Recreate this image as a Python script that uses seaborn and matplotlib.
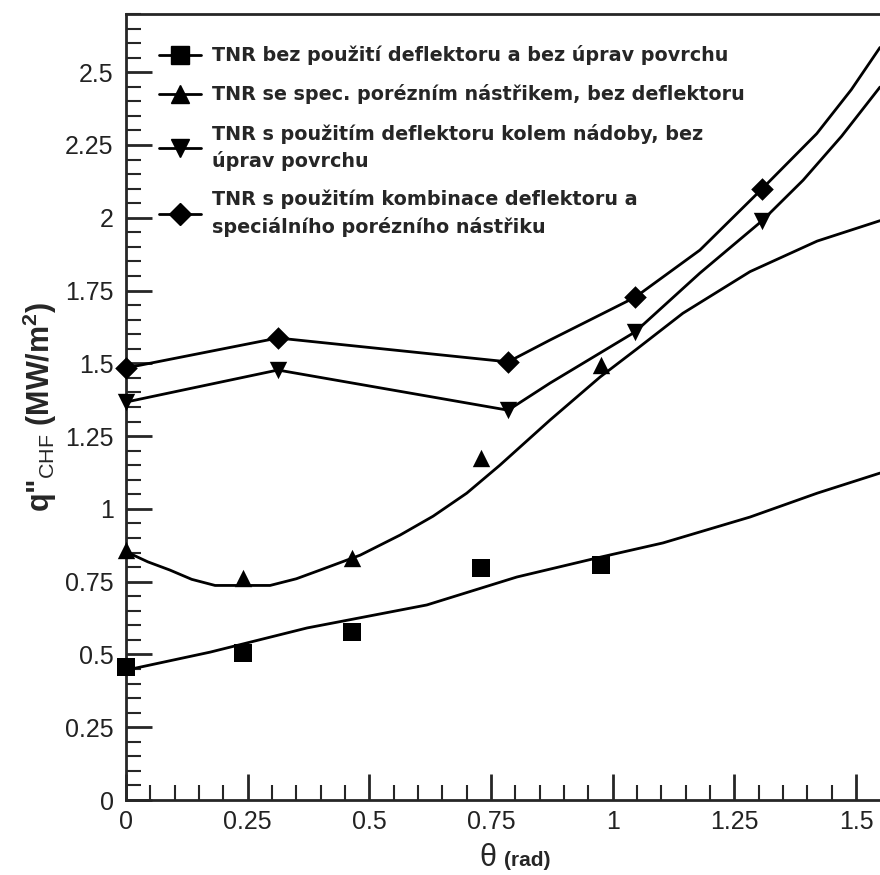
import matplotlib
matplotlib.use("Agg")
import numpy as np
import pandas as pd
import seaborn as sns
import matplotlib.pyplot as plt
from matplotlib.lines import Line2D
from matplotlib.ticker import MultipleLocator, FormatStrFormatter

################################
#            Data              #
################################

labels = ["TNR bez použití deflektoru a bez úprav povrchu",
          "TNR se spec. porézním nástřikem, bez deflektoru",
          "TNR s použitím deflektoru kolem nádoby, bez\núprav povrchu",
          "TNR s použitím kombinace deflektoru a\nspeciálního porézního nástřiku"]

# measured points (theta in rad, q'' in MW/m2)
sq_x = [0.0, 0.24, 0.465, 0.73, 0.975]
sq_y = [0.458, 0.504, 0.578, 0.798, 0.807]
tri_x = [0.0, 0.24, 0.465, 0.73, 0.975]
tri_y = [0.858, 0.761, 0.830, 1.174, 1.494]
itri_x = [0.0, 0.312, 0.785, 1.046, 1.307]
itri_y = [1.367, 1.477, 1.339, 1.608, 1.990]
dia_x = [0.0, 0.312, 0.785, 1.046, 1.307]
dia_y = [1.484, 1.587, 1.505, 1.727, 2.100]

# fitted curves
sq_fit_x = [0.0, 0.173, 0.372, 0.618, 0.803, 0.974, 1.103, 1.282, 1.420, 1.549]
sq_fit_y = [0.446, 0.508, 0.591, 0.670, 0.766, 0.834, 0.883, 0.972, 1.054, 1.123]
tri_fit_x = [0.0, 0.045, 0.090, 0.135, 0.183, 0.296, 0.350, 0.399, 0.481, 0.563,
             0.631, 0.700, 0.768, 0.871, 0.974, 1.050, 1.144, 1.282, 1.420, 1.549]
tri_fit_y = [0.853, 0.818, 0.790, 0.758, 0.737, 0.737, 0.760, 0.790, 0.841, 0.910,
             0.975, 1.054, 1.150, 1.305, 1.453, 1.550, 1.672, 1.815, 1.920, 1.990]
itri_fit_x = [0.0, 0.312, 0.785, 0.871, 1.046, 1.179, 1.307, 1.391, 1.470, 1.549]
itri_fit_y = [1.367, 1.477, 1.339, 1.432, 1.608, 1.810, 1.990, 2.129, 2.280, 2.449]
dia_fit_x = [0.0, 0.312, 0.785, 0.871, 1.046, 1.179, 1.307, 1.419, 1.490, 1.549]
dia_fit_y = [1.484, 1.587, 1.505, 1.580, 1.727, 1.889, 2.100, 2.289, 2.440, 2.585]

markers = ["s", "^", "v", "D"]
marker_pt = [12.5, 12.5, 12.5, 11.5]

pts = pd.concat([
    pd.DataFrame({"x": sq_x, "y": sq_y, "serie": labels[0]}),
    pd.DataFrame({"x": tri_x, "y": tri_y, "serie": labels[1]}),
    pd.DataFrame({"x": itri_x, "y": itri_y, "serie": labels[2]}),
    pd.DataFrame({"x": dia_x, "y": dia_y, "serie": labels[3]}),
])
fits = pd.concat([
    pd.DataFrame({"x": sq_fit_x, "y": sq_fit_y, "serie": labels[0]}),
    pd.DataFrame({"x": tri_fit_x, "y": tri_fit_y, "serie": labels[1]}),
    pd.DataFrame({"x": itri_fit_x, "y": itri_fit_y, "serie": labels[2]}),
    pd.DataFrame({"x": dia_fit_x, "y": dia_fit_y, "serie": labels[3]}),
])

################################
#           Plot               #
################################

sns.set_style("ticks")
plt.rcParams['font.family'] = ['Liberation Sans', 'DejaVu Sans']
plt.rcParams['mathtext.fontset'] = 'custom'
plt.rcParams['mathtext.rm'] = 'Liberation Sans'
plt.rcParams['mathtext.bf'] = 'Liberation Sans:bold'
plt.rcParams['mathtext.it'] = 'Liberation Sans:italic'

fig = plt.figure(figsize=(8.8, 8.75), dpi=100)
ax = fig.add_axes([126/880, 75/875, 1 - 126/880, (800-14)/875])

for lab in labels:
    sns.lineplot(ax=ax, data=fits[fits["serie"] == lab], x="x", y="y",
                 color="black", lw=2, sort=False, estimator=None)
for lab, m, ms in zip(labels, markers, marker_pt):
    sns.scatterplot(ax=ax, data=pts[pts["serie"] == lab], x="x", y="y",
                    marker=m, color="black", s=ms**2,
                    edgecolor="black", linewidth=0, zorder=5, clip_on=False)

ax.set_xlim(0, 1.549)
ax.set_ylim(0, 2.7)
ax.xaxis.set_major_locator(MultipleLocator(0.25))
ax.xaxis.set_minor_locator(MultipleLocator(0.05))
ax.yaxis.set_major_locator(MultipleLocator(0.25))
ax.yaxis.set_minor_locator(MultipleLocator(0.05))
ax.xaxis.set_major_formatter(FormatStrFormatter('%g'))
ax.yaxis.set_major_formatter(FormatStrFormatter('%g'))
ax.tick_params(which="major", direction="in", length=19, width=2, labelsize=18,
               labelcolor="#222222")
ax.tick_params(which="minor", direction="in", length=11, width=1.5)
ax.tick_params(axis="y", which="major", pad=9)
ax.tick_params(axis="x", which="major", pad=7)
for s in ["left", "bottom", "top"]:
    ax.spines[s].set_linewidth(2)
ax.spines["right"].set_visible(False)

ax.set_xlabel("")
ax.set_ylabel('q"$_{\\mathrm{CHF}}$ (MW/m$^{\\mathbf{2}}$)', fontsize=22,
              fontweight="bold", labelpad=4)

fig.text(488/880, 1 - 858/875, "θ", fontsize=22, ha="center", va="center")
fig.text(504/880, 1 - 861/875, "(rad)", fontsize=15, fontweight="bold",
         ha="left", va="center")

handles = [Line2D([0], [0], color="black", lw=2, marker=m, markersize=ms)
           for m, ms in zip(markers, marker_pt)]
leg = ax.legend(handles, labels, loc="upper left", bbox_to_anchor=(0.033, 0.97),
                frameon=False,
                prop={"family": "DejaVu Sans", "weight": "bold", "size": 13.8},
                handlelength=2.2, handletextpad=0.6, labelspacing=1.0,
                borderaxespad=0)
for t in leg.get_texts():
    t.set_linespacing(1.45)

fig.savefig("out.png", dpi=100)
